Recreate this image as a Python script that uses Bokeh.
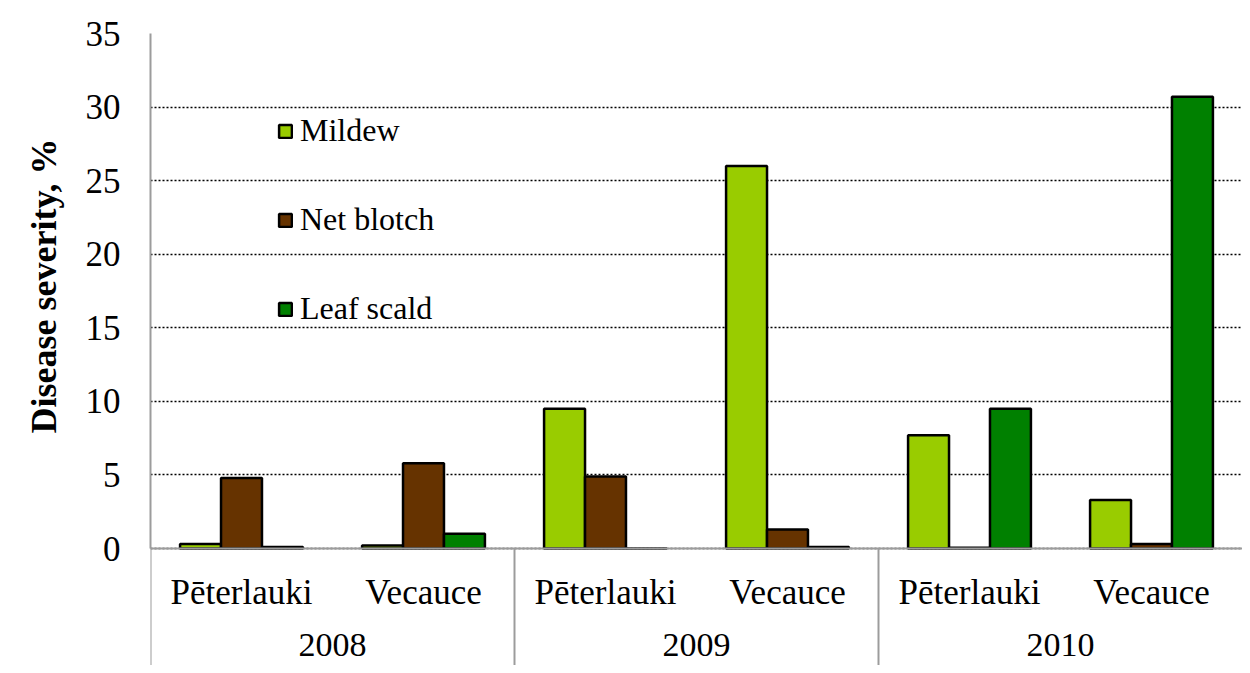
from bokeh.plotting import figure
from bokeh.models import FactorRange, Range1d, FixedTicker, Span, ColumnDataSource, Title
from bokeh.transform import dodge
from bokeh.core.properties import value
from bokeh.embed import file_html
from bokeh.resources import INLINE

# ---------------- data ----------------
years = ["2008", "2009", "2010"]
sites = ["Pēterlauki", "Vecauce"]
series = ["Mildew", "Net blotch", "Leaf scald"]
colors = ["#99CC00", "#663300", "#008000"]
mildew = [0.3, 0.2, 9.5, 26.0, 7.7, 3.3]
net_blotch = [4.8, 5.8, 4.9, 1.3, 0.05, 0.3]
leaf_scald = [0.1, 1.0, 0.0, 0.1, 9.5, 30.7]
y_ticks = [0, 5, 10, 15, 20, 25, 30, 35]
y_title = "Disease severity, %"

FONT = "Liberation Serif"
GRAY = "#9C9C9C"

factors = [(yr, s) for yr in years for s in sites]
source = ColumnDataSource(dict(x=factors, mildew=mildew, net=net_blotch, leaf=leaf_scald))
fields = ["mildew", "net", "leaf"]

x_range = FactorRange(*factors, group_padding=0, factor_padding=0, range_padding=0)
y_range = Range1d(-7.95, 35)

p = figure(width=1242, height=665, x_range=x_range, y_range=y_range,
           output_backend="svg", toolbar_location=None, x_axis_location=None,
           min_border_left=150, min_border_right=0, min_border_top=33,
           min_border_bottom=0)
p.outline_line_color = None
p.background_fill_color = "white"

# grid
p.xgrid.grid_line_color = None
p.ygrid.ticker = FixedTicker(ticks=y_ticks)
p.ygrid.grid_line_color = "black"
p.ygrid.grid_line_dash = "2 2"
p.ygrid.grid_line_width = 1.6

# y axis
ya = p.yaxis[0]
ya.ticker = FixedTicker(ticks=y_ticks)
ya.bounds = (y_ticks[0], y_ticks[-1])
ya.axis_line_color = GRAY
ya.axis_line_width = 2
ya.major_tick_line_color = None
ya.minor_tick_line_color = None
ya.major_tick_out = 0
ya.major_tick_in = 0
ya.major_label_standoff = 30
ya.major_label_text_font = FONT
ya.major_label_text_font_size = "35px"
ya.major_label_text_color = "black"

# y axis title (placed as a side title so it can sit over the 0..35 span)
p.add_layout(Title(text=y_title, align="right", offset=105, standoff=37,
                   text_font=FONT, text_font_size="36px", text_font_style="bold",
                   text_color="black"), "left")

# bars
bw = 0.225
offsets = [-bw, 0, bw]
for f, name, c, off in zip(fields, series, colors, offsets):
    p.vbar(x=dodge("x", off, range=p.x_range), top=f, width=bw, bottom=0,
           source=source, fill_color=c, line_color="black", line_width=2.5,
           legend_label=name)

# zero line
p.add_layout(Span(location=0, dimension="width", line_color=GRAY, line_width=2))

# category separators (group boundaries in synthetic coordinates)
n_sites = len(sites)
bounds_x = [i * n_sites for i in range(len(years))]
p.segment(x0=bounds_x, y0=[0] * len(bounds_x), x1=bounds_x,
          y1=[y_range.start] * len(bounds_x), line_color=GRAY, line_width=2)

# site labels and year labels
lab_src = ColumnDataSource(dict(x=factors, t=[s for (_, s) in factors]))
p.text(x="x", y=0, text="t", source=lab_src, y_offset=44, text_align="center",
       text_baseline="middle", text_font=value(FONT), text_font_size="35px",
       text_color="black")
yr_src = ColumnDataSource(dict(x=years, t=years))
p.text(x="x", y=0, text="t", source=yr_src, y_offset=96, text_align="center",
       text_baseline="middle", text_font=value(FONT), text_font_size="34px",
       text_color="black")

# legend
lg = p.legend[0]
lg.location = (127, 338)
lg.padding = 0
lg.margin = 0
lg.spacing = 52
lg.label_height = 30
lg.glyph_height = 16
lg.glyph_width = 16
lg.label_standoff = 7
lg.background_fill_alpha = 0
lg.border_line_color = None
lg.label_text_font = FONT
lg.label_text_font_size = "32px"
lg.label_text_color = "black"

open("out.html", "w").write(file_html(p, INLINE))
